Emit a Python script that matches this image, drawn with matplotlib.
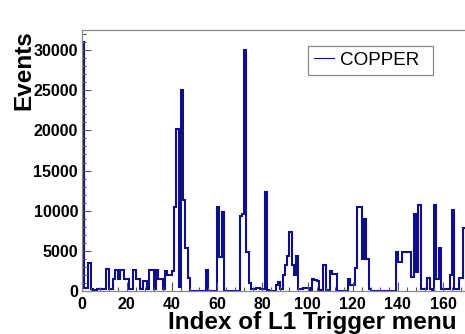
import matplotlib

matplotlib.use("Agg")

import matplotlib.pyplot as plt
import numpy as np
from matplotlib.lines import Line2D
from matplotlib.ticker import MultipleLocator

# events per L1 trigger menu index (bin width 1, starting at 0)
counts = [
    31000, 330, 330, 3450, 200, 150, 100, 200, 250, 300,
    300, 2700, 250, 300, 1500, 2600, 1500, 2600, 2600, 1500,
    1500, 300, 250, 2600, 1500, 1500, 250, 1300, 1300, 250,
    2600, 2600, 300, 2600, 1500, 1500, 250, 2500, 2000, 2000,
    2500, 10500, 20200, 500, 25000, 11300, 5300, 1600, 0, 0,
    0, 0, 0, 0, 0, 2600, 0, 0, 0, 0,
    10500, 4200, 9800, 0, 0, 0, 0, 0, 0, 0,
    9400, 9600, 30000, 4800, 1000, 300, 200, 400, 400, 200,
    300, 12300, 100, 0, 0, 0, 800, 1100, 200, 2000,
    3200, 4300, 7300, 3200, 2000, 4400, 300, 300, 400, 400,
    400, 100, 1500, 1400, 1300, 100, 100, 3200, 100, 100,
    2500, 2100, 2100, 50, 50, 50, 50, 50, 1500, 700,
    700, 2850, 10500, 10500, 4000, 9000, 4000, 300, 0, 0,
    0, 0, 0, 0, 0, 0, 0, 0, 0, 4900,
    3600, 3600, 4900, 4900, 4900, 4900, 1700, 9600, 2400, 10700,
    200, 200, 200, 1600, 200, 100, 10700, 1500, 5300, 200,
    200, 200, 200, 2000, 10100, 200, 200, 1600, 1600, 7800,
]
x_ticks = [0, 20, 40, 60, 80, 100, 120, 140, 160]
y_ticks = [0, 5000, 10000, 15000, 20000, 25000, 30000]
legend_label = "COPPER"

hist_color = "#0f0f8c"
frame_color = "#8a8a8a"

plt.rcParams["font.family"] = ["Liberation Sans", "DejaVu Sans"]

fig = plt.figure(figsize=(4.65, 3.34), dpi=100)
# frame is wider than the picture: the right part of the axis is cut off
ax = fig.add_axes([81.5 / 465, 43 / 334, 452 / 465, 261 / 334])

edges = np.arange(len(counts) + 1)
ax.stairs(counts, edges, color=hist_color, lw=1.5, baseline=0)

ax.set_xlim(0, 200)
ax.set_ylim(0, 32500)
ax.set_xticks(x_ticks)
ax.set_yticks(y_ticks)
ax.xaxis.set_minor_locator(MultipleLocator(4))
ax.yaxis.set_minor_locator(MultipleLocator(1000))

for side in ["left", "bottom", "top", "right"]:
    ax.spines[side].set_color(frame_color)
    ax.spines[side].set_linewidth(0.9)

ax.tick_params(which="both", direction="in", colors="#555555", labelcolor="black")
ax.tick_params(which="major", length=6.5, width=0.8)
ax.tick_params(which="minor", length=3.2, width=0.8)
ax.tick_params(axis="x", pad=4.5, labelsize=11.5)
ax.tick_params(axis="y", pad=2.5, labelsize=11.5)
for lbl in ax.get_xticklabels() + ax.get_yticklabels():
    lbl.set_fontweight("bold")

ax.set_xlabel("Index of L1 Trigger menu", fontsize=17.5, fontweight="bold")
ax.xaxis.set_label_coords(0.51, -0.122)
ax.xaxis.label.set_va("center")
ax.set_ylabel("Events", fontsize=17.5, fontweight="bold", loc="top")
ax.yaxis.set_label_coords(-0.127, 1.0)
ax.yaxis.label.set_va("center")

handle = Line2D([], [], color=hist_color, lw=0.8)
ax.legend(
    [handle],
    [legend_label],
    loc="upper left",
    bbox_to_anchor=(308 / 465, 1 - 80 / 334, 125 / 465, 34 / 334),
    bbox_transform=fig.transFigure,
    mode="expand",
    borderaxespad=0,
    borderpad=0.3,
    handlelength=1.1,
    handletextpad=0.3,
    fontsize=13.6,
    fancybox=False,
    framealpha=1,
    edgecolor=frame_color,
)
ax.get_legend().get_frame().set_linewidth(0.9)

fig.savefig("out.png", dpi=100)
plt.close(fig)
